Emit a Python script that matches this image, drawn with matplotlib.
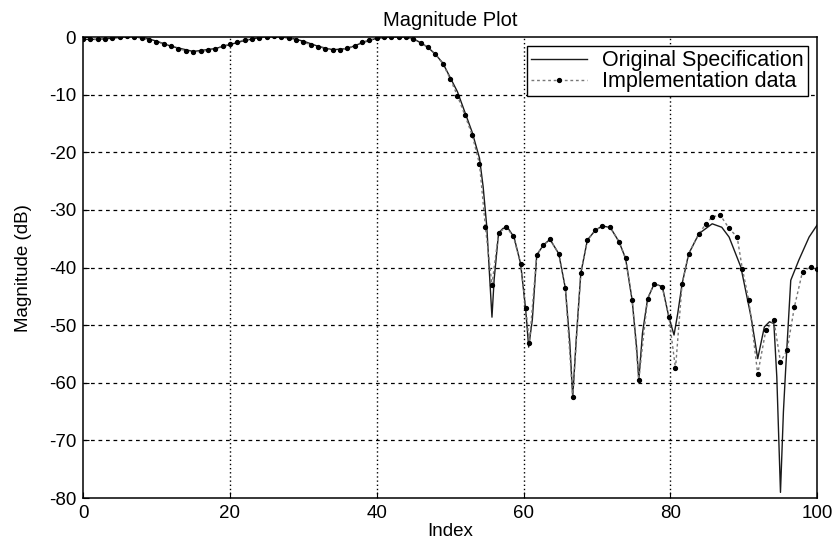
"""
Magnitude plot: original filter specification vs implementation data
"""

import matplotlib
matplotlib.use('Agg')
import matplotlib.pyplot as plt
import numpy as np

# Original specification (index, magnitude in dB)
orig_x = [0, 2, 4, 6, 8, 10, 12, 15, 18, 20, 22, 24, 26, 28, 30, 32, 34, 36,
          38, 40, 42, 44, 45, 46, 47, 48, 49, 50, 51, 52, 53, 54, 54.5, 55,
          55.4, 55.7, 56.0, 56.6, 57.2, 57.8, 58.7, 59.6, 60.3, 60.7, 61.2,
          61.8, 62.7, 63.6, 64.8, 65.7, 66.3, 66.7, 67.2, 67.8, 68.7, 69.8,
          70.7, 71.8, 73.0, 73.9, 74.8, 75.4, 75.7, 76.2, 76.9, 77.8, 78.9,
          79.8, 80.5, 81.0, 81.6, 82.5, 83.9, 85.7, 87.0, 88.0, 89.6, 91.0,
          91.9, 92.8, 93.5, 94.1, 94.5, 95.0, 95.4, 95.7, 96.4, 97.5, 98.9, 100]
orig_y = [-0.4, -0.4, -0.2, 0.1, 0.0, -0.7, -1.6, -2.5, -2.0, -1.3, -0.6, -0.1,
          0.1, -0.1, -0.7, -1.6, -2.2, -2.0, -1.0, -0.2, 0.0, 0.0, -0.3, -1.0,
          -1.8, -3.0, -4.5, -7.0, -9.5, -13.0, -16.5, -21.0, -26.0, -33.0,
          -42.0, -48.6, -42.0, -34.0, -33.2, -33.0, -34.7, -39.3, -47.4, -53.8,
          -49.0, -37.8, -36.1, -35.1, -37.6, -43.6, -53.0, -62.4, -52.0, -41.0,
          -35.2, -33.5, -32.8, -33.0, -35.5, -38.4, -45.7, -53.8, -59.5, -51.4,
          -45.4, -42.8, -43.3, -48.6, -51.7, -48.0, -42.8, -37.6, -34.1, -32.4,
          -33.0, -34.7, -39.9, -48.6, -55.8, -50.3, -49.4, -49.7, -59.0, -79.0,
          -65.0, -57.8, -42.2, -38.7, -34.7, -32.6]

# Implementation data (index, magnitude in dB)
impl_x = [0, 1, 2, 3, 4, 5, 6, 7, 8, 9, 10, 11, 12, 13, 14, 15, 16, 17, 18,
          19, 20, 21, 22, 23, 24, 25, 26, 27, 28, 29, 30, 31, 32, 33, 34, 35,
          36, 37, 38, 39, 40, 41, 42, 43, 44, 45, 46, 47, 48, 49, 50, 51, 52,
          53, 54, 54.8, 55.7, 56.6, 57.6, 58.6, 59.6, 60.3, 60.8, 61.8, 62.7,
          63.6, 64.8, 65.7, 66.7, 67.8, 68.7, 69.8, 70.7, 71.8, 73.0, 73.9,
          74.8, 75.7, 76.9, 77.8, 78.9, 79.8, 80.7, 81.6, 82.5, 83.9, 84.8,
          85.7, 86.8, 88.0, 89.1, 89.8, 90.7, 91.9, 93.0, 94.1, 95.0, 95.9,
          96.9, 98.0, 99.1, 100]
impl_y = [-0.4, -0.4, -0.4, -0.3, -0.2, 0.0, 0.1, 0.0, -0.2, -0.5, -0.8, -1.2,
          -1.6, -2.0, -2.4, -2.6, -2.5, -2.3, -2.0, -1.6, -1.2, -0.8, -0.5,
          -0.3, -0.1, 0.0, 0.1, 0.0, -0.2, -0.5, -0.9, -1.3, -1.7, -2.0, -2.2,
          -2.2, -1.9, -1.5, -0.9, -0.5, -0.2, 0.0, 0.0, 0.0, 0.0, -0.4, -1.0,
          -1.8, -3.0, -4.6, -7.2, -10.2, -13.5, -17.0, -22.0, -32.9, -43.0,
          -34.0, -33.0, -34.5, -39.3, -47.0, -53.0, -37.8, -36.1, -35.1, -37.6,
          -43.6, -62.4, -41.0, -35.2, -33.5, -32.8, -33.0, -35.5, -38.4, -45.7,
          -59.5, -45.4, -42.8, -43.3, -48.6, -57.5, -42.8, -37.6, -34.1, -32.5,
          -31.2, -30.9, -33.2, -34.7, -40.2, -45.7, -58.5, -50.9, -49.1, -56.4,
          -54.3, -46.8, -40.7, -39.9, -40.2]

x_ticks = [0, 20, 40, 60, 80, 100]
y_ticks = [0, -10, -20, -30, -40, -50, -60, -70, -80]

plt.rcParams['font.family'] = ['Liberation Sans', 'DejaVu Sans']
plt.rcParams['axes.unicode_minus'] = False

fig = plt.figure(figsize=(8.39, 5.45), dpi=100)
ax = fig.add_axes([0.099, 0.086, 0.875, 0.846])

ax.plot(orig_x, orig_y, color='#1a1a1a', linewidth=1.0, label='Original Specification')
ax.plot(impl_x, impl_y, color='#777777', linestyle=(0, (2, 2)), linewidth=1.0,
        marker='o', markersize=2.8, markerfacecolor='black', markeredgecolor='black',
        label='Implementation data')

ax.set_xlim(0, 100)
ax.set_ylim(-80, 0)
ax.set_xticks(x_ticks)
ax.set_yticks(y_ticks)
ax.tick_params(direction='in', labelsize=13.5, length=4, width=0.8, pad=5)

# MATLAB-style grid: dashed horizontal, dotted vertical
for yv in y_ticks[1:-1]:
    ax.axhline(yv, color='black', linestyle=(0, (3, 3)), linewidth=0.9, zorder=0)
for xv in x_ticks[1:-1]:
    ax.axvline(xv, color='black', linestyle=(0, (1, 2)), linewidth=1.0, zorder=0)

for s in ax.spines.values():
    s.set_linewidth(1.1)

ax.set_title('Magnitude Plot', fontsize=14.5, pad=8)
ax.set_xlabel('Index', fontsize=13.5, labelpad=1)
ax.set_ylabel('Magnitude (dB)', fontsize=13.5, labelpad=12)

leg = ax.legend(loc='upper right', bbox_to_anchor=(0.988, 0.981), fontsize=15.5,
                frameon=True, fancybox=False, framealpha=1, edgecolor='black',
                borderpad=0.2, labelspacing=0.0, handlelength=2.6,
                handletextpad=0.7, borderaxespad=0.0)
leg.get_frame().set_linewidth(1.0)

plt.savefig('out.png', dpi=100)
plt.close()
